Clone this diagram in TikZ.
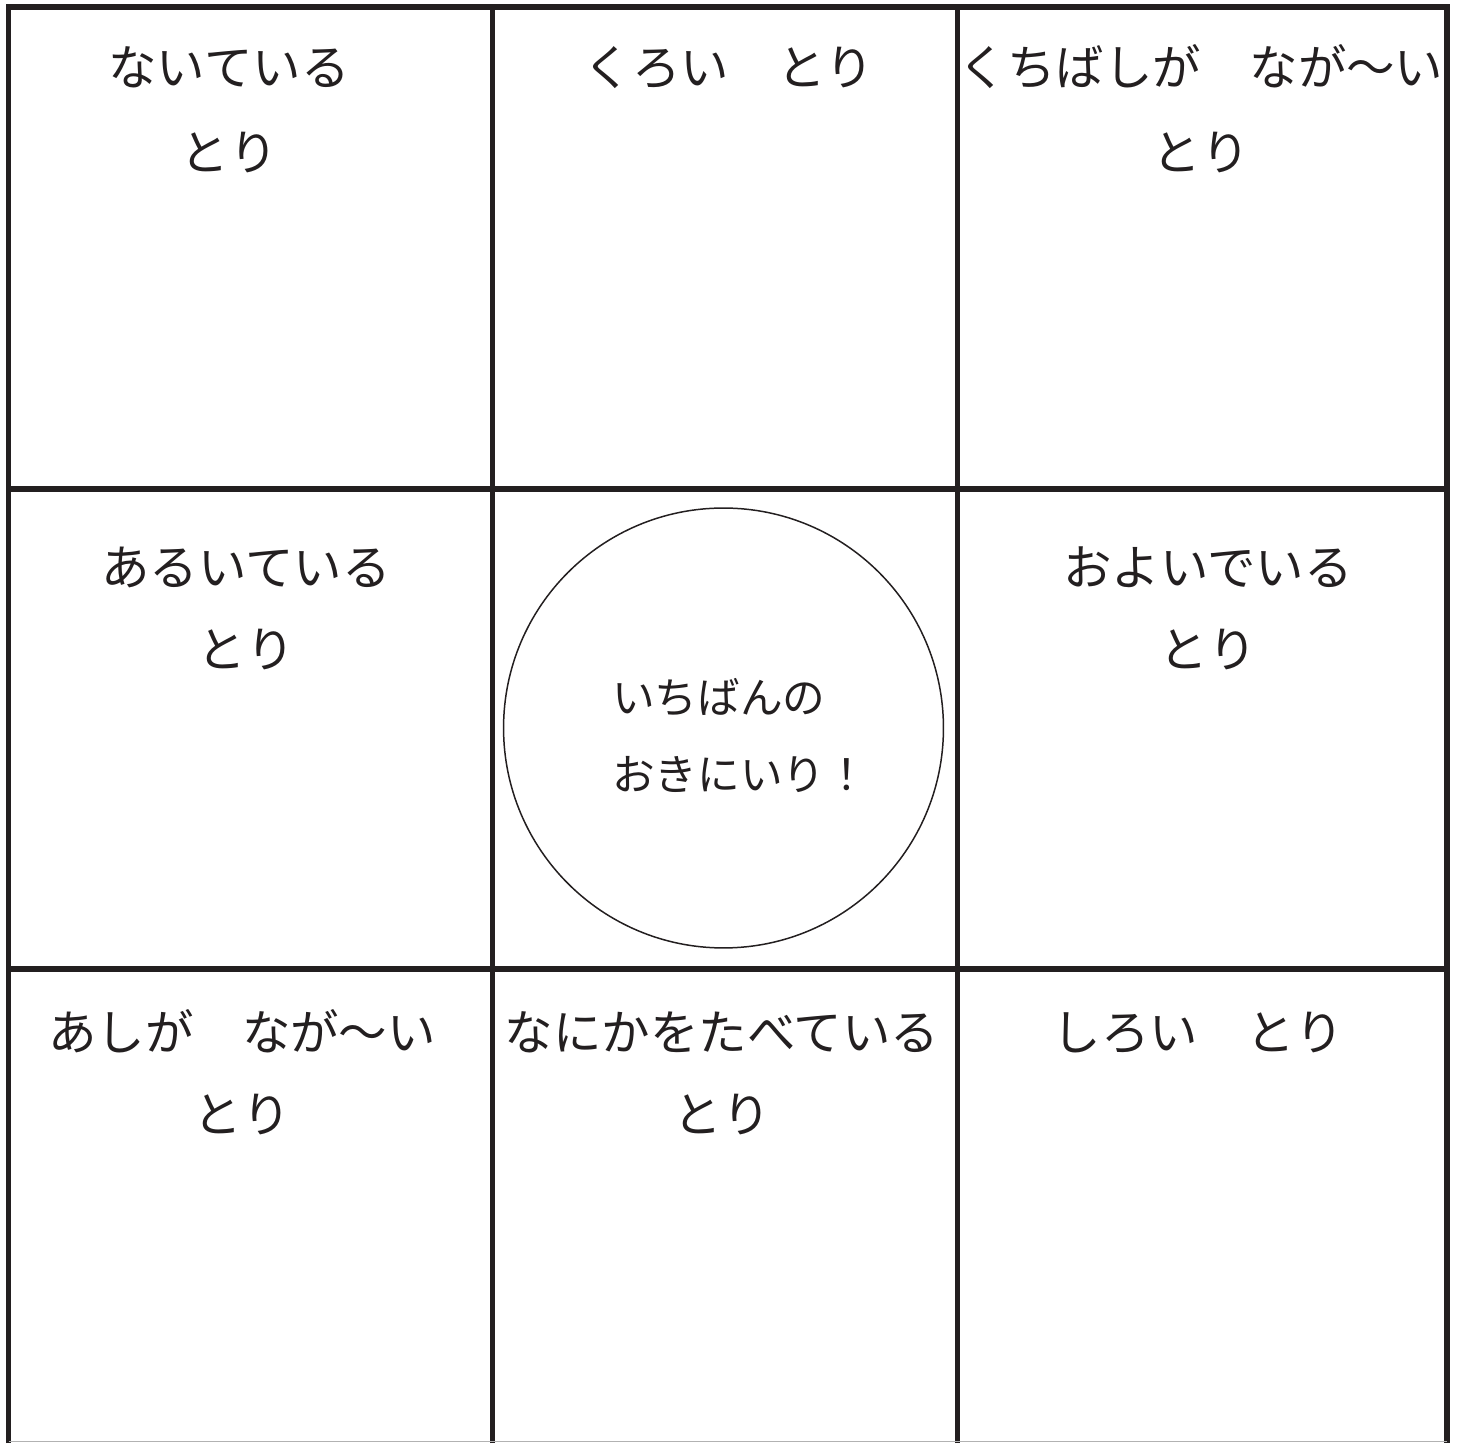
\documentclass[tikz,border=0pt]{standalone}
\usepackage{fontspec}
\newfontfamily\jpfont{Noto Sans CJK JP}
\usetikzlibrary{positioning}
\definecolor{ink}{HTML}{231F20}

\begin{document}
\begin{tikzpicture}
[x=0.02cm,y=0.02cm,
 every node/.style={inner sep=0mm,outer sep=0mm,text=ink,text height=0.8em,text depth=0.2em},
 word/.style={font=\jpfont\fontsize{27.6}{27.6}\selectfont},
 fav/.style={font=\jpfont\fontsize{24.3}{24.3}\selectfont,anchor=west},
 grid/.style={draw=ink,line width=3.1pt,line join=miter}]
\useasboundingbox (0,0) rectangle (1459,1443);
\draw[grid] (8.5,0) -- (8.5,1436) -- (1447,1436) -- (1447,0);
\draw[grid] (492.5,0) -- (492.5,1436);
\draw[grid] (957.5,0) -- (957.5,1436);
\draw[grid] (8.5,954) -- (1447,954);
\draw[grid] (8.5,474) -- (1447,474);
\draw[gray!60,line width=0.6pt] (8.5,1.5) -- (1447,1.5);
\node[word] (t11)  at (229,1363)                  {ないている};
\node[word] (t11b) [on grid,below=1.7cm of t11]  {とり};
\node[word] (t12)  at (729,1363)                  {くろい　とり};
\node[word] (t13)  at (1201,1363)                 {くちばしが　なが〜い};
\node[word] (t13b) [on grid,below=1.7cm of t13]  {とり};
\node[word] (t21)  at (246,863)                   {あるいている};
\node[word] (t21b) [on grid,below=1.64cm of t21] {とり};
\node[draw=ink,line width=0.85pt,circle,minimum size=8.8cm] (fav) at (723.5,715) {};
\node[fav]  (f1)   at (612,735)                   {いちばんの};
\node[fav]  (f2)   at (612,658)                   {おきにいり！};
\node[word] (t23)  at (1208,863)                  {およいでいる};
\node[word] (t23b) [on grid,below=1.64cm of t23] {とり};
\node[word] (t31)  at (242,398)                   {あしが　なが〜い};
\node[word] (t31b) [on grid,below=1.64cm of t31] {とり};
\node[word] (t32)  at (722,398)                   {なにかをたべている};
\node[word] (t32b) [on grid,below=1.64cm of t32] {とり};
\node[word] (t33)  at (1198,398)                  {しろい　とり};
\end{tikzpicture}
\end{document}
